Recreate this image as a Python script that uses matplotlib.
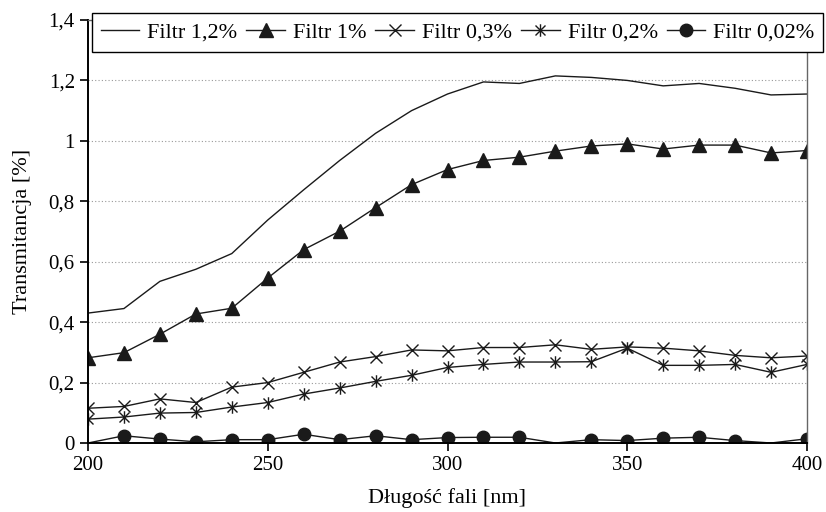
import numpy as np
import matplotlib
matplotlib.use("Agg")
import matplotlib.pyplot as plt
from matplotlib.path import Path

plt.rcParams['font.family'] = ['Liberation Serif', 'DejaVu Serif']

# dane
dlugosc = np.arange(200, 401, 10)

filtr_12 = [0.43, 0.445, 0.535, 0.575, 0.627, 0.738, 0.838, 0.935, 1.025, 1.10, 1.155,
            1.195, 1.19, 1.215, 1.21, 1.20, 1.182, 1.19, 1.174, 1.152, 1.155]
filtr_1 = [0.282, 0.299, 0.36, 0.427, 0.446, 0.546, 0.64, 0.701, 0.779, 0.855, 0.905,
           0.935, 0.946, 0.966, 0.983, 0.99, 0.973, 0.986, 0.986, 0.96, 0.968]
filtr_03 = [0.115, 0.121, 0.146, 0.134, 0.185, 0.20, 0.234, 0.268, 0.286, 0.308, 0.305,
            0.316, 0.316, 0.325, 0.31, 0.318, 0.314, 0.305, 0.29, 0.282, 0.288]
filtr_02 = [0.079, 0.086, 0.099, 0.101, 0.119, 0.134, 0.162, 0.182, 0.204, 0.224, 0.25,
            0.26, 0.268, 0.268, 0.269, 0.314, 0.257, 0.257, 0.26, 0.234, 0.26]
filtr_002 = [0.0, 0.024, 0.013, 0.004, 0.011, 0.011, 0.029, 0.011, 0.024, 0.011, 0.018,
             0.019, 0.019, 0.0, 0.011, 0.008, 0.016, 0.019, 0.008, 0.0, 0.014]

y_ticks = [0, 0.2, 0.4, 0.6, 0.8, 1.0, 1.2, 1.4]
y_labels = ["0", "0,2", "0,4", "0,6", "0,8", "1", "1,2", "1,4"]

kolor = "#1a1a1a"
lw = 1.0

# gwiazdka: krzyzyk + pionowa kreska
gwiazdka = Path([(-1, -1), (1, 1), (-1, 1), (1, -1), (0, -1.25), (0, 1.25)],
                [Path.MOVETO, Path.LINETO, Path.MOVETO, Path.LINETO, Path.MOVETO, Path.LINETO])

fig = plt.figure(figsize=(8.26, 5.12), dpi=100)
ax = fig.add_axes([88/826, 1 - 443/512, (807 - 88)/826, (443 - 20)/512])

ax.plot(dlugosc, filtr_12, color=kolor, lw=lw, label="Filtr 1,2%")
ax.plot(dlugosc, filtr_1, color=kolor, lw=lw, marker="^", ms=10.5, label="Filtr 1%")
ax.plot(dlugosc, filtr_03, color=kolor, lw=lw, marker="x", ms=9, mew=1.0, label="Filtr 0,3%")
ax.plot(dlugosc, filtr_02, color=kolor, lw=lw, marker=gwiazdka, ms=9, mew=1.0,
        mfc="none", label="Filtr 0,2%")
widoczne = [v > 0 for v in filtr_002]
ax.plot(dlugosc, filtr_002, color=kolor, lw=lw, marker="o", ms=9,
        markevery=widoczne, label="Filtr 0,02%")

ax.set_xlim(200, 400)
ax.set_ylim(0, 1.4)
ax.set_xticks([200, 250, 300, 350, 400])
ax.set_yticks(y_ticks)
ax.set_yticklabels(y_labels)
ax.tick_params(labelsize=15, direction="out", length=6, width=1.2, colors="black")
ax.yaxis.grid(True, linestyle=(0, (1, 2)), color="#999999", lw=0.8)
ax.set_axisbelow(True)

for s in ["left", "bottom"]:
    ax.spines[s].set_linewidth(1.4)
    ax.spines[s].set_color("black")
for s in ["right", "top"]:
    ax.spines[s].set_linewidth(1.0)
    ax.spines[s].set_color("#666666")

ax.set_xlabel("Długość fali [nm]", fontsize=16, labelpad=9)
ax.set_ylabel("Transmitancja [%]", fontsize=16, labelpad=12)

leg = ax.legend(loc="center", bbox_to_anchor=((93 + 822) / 2 / 826, 1 - 32.5 / 512),
                bbox_transform=fig.transFigure, ncol=5, fontsize=16, frameon=True,
                fancybox=False, edgecolor="black", framealpha=1, handlelength=1.75,
                handletextpad=0.35, columnspacing=0.4, borderpad=0.4, borderaxespad=0)
leg.get_frame().set_linewidth(1.0)

fig.savefig("out.png", dpi=100)
